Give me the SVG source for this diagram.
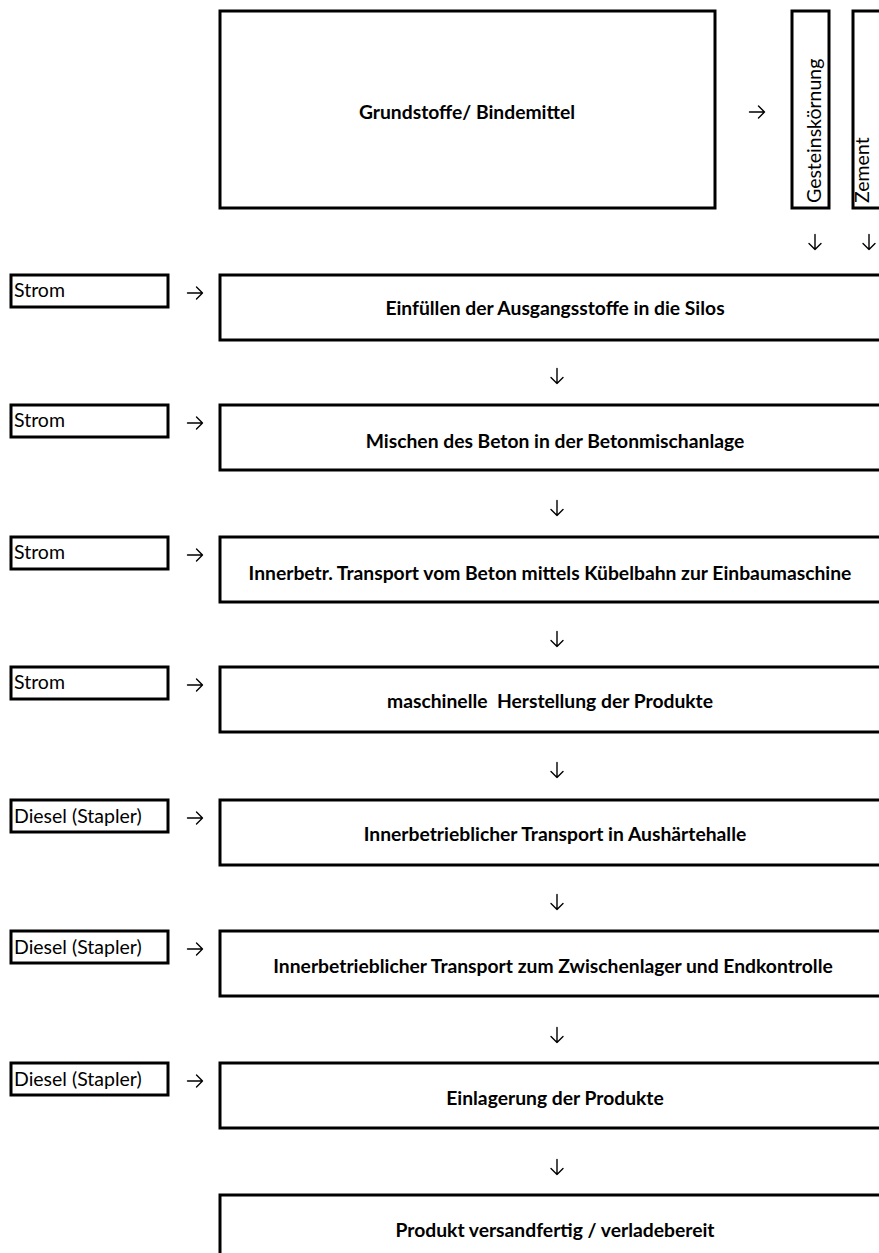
<svg xmlns="http://www.w3.org/2000/svg" width="879" height="1253" viewBox="0 0 879 1253">
<style>
.box{fill:#fff;stroke:#000;stroke-width:3}
.lbl{font-family:Lato,"Liberation Sans",sans-serif;font-weight:bold;font-size:19.3px;fill:#000;text-anchor:middle}
.in{font-family:Lato,"Liberation Sans",sans-serif;font-size:19.5px;fill:#000}
.arr{fill:none;stroke:#000;stroke-width:1.4;stroke-linecap:round;stroke-linejoin:round}
</style>
<defs>
<path id="ra" class="arr" d="M-7.5,0 H7.5 M1.5,-6 L7.5,0 L1.5,6"/>
<path id="da" class="arr" d="M0,-7.5 V7.5 M-6,1.5 L0,7.5 L6,1.5"/>
</defs>
<rect width="879" height="1253" fill="#fff"/>
<g id="grundstoffe"><rect class="box" x="220" y="11" width="495" height="197"/><text class="lbl" x="467" y="119">Grundstoffe/ Bindemittel</text></g>
<g id="gestein"><rect class="box" x="792" y="11" width="37" height="197"/><text class="in" transform="translate(821,203) rotate(-90)">Gesteinskörnung</text></g>
<g id="zement"><rect class="box" x="853" y="11" width="40" height="197"/><text class="in" transform="translate(869,203) rotate(-90)">Zement</text></g>
<g id="s1"><rect class="box" x="220" y="275" width="680" height="65"/><text class="lbl" x="555" y="315">Einfüllen der Ausgangsstoffe in die Silos</text></g>
<g id="s2"><rect class="box" x="220" y="405" width="680" height="65"/><text class="lbl" x="555" y="448">Mischen des Beton in der Betonmischanlage</text></g>
<g id="s3"><rect class="box" x="220" y="537" width="680" height="65"/><text class="lbl" x="550" y="580">Innerbetr. Transport vom Beton mittels Kübelbahn zur Einbaumaschine</text></g>
<g id="s4"><rect class="box" x="220" y="667" width="680" height="65"/><text class="lbl" x="550" y="708">maschinelle&#160; Herstellung der Produkte</text></g>
<g id="s5"><rect class="box" x="220" y="800" width="680" height="65"/><text class="lbl" x="555" y="841">Innerbetrieblicher Transport in Aushärtehalle</text></g>
<g id="s6"><rect class="box" x="220" y="931" width="680" height="65"/><text class="lbl" x="553" y="973">Innerbetrieblicher Transport zum Zwischenlager und Endkontrolle</text></g>
<g id="s7"><rect class="box" x="220" y="1063" width="680" height="65"/><text class="lbl" x="555" y="1105">Einlagerung der Produkte</text></g>
<g id="s8"><rect class="box" x="220" y="1195" width="680" height="80"/><text class="lbl" x="555" y="1237">Produkt versandfertig / verladebereit</text></g>
<g id="in1"><rect class="box" x="11" y="275" width="157" height="32"/><text class="in" x="14" y="297">Strom</text></g>
<g id="in2"><rect class="box" x="11" y="405" width="157" height="32"/><text class="in" x="14" y="427">Strom</text></g>
<g id="in3"><rect class="box" x="11" y="537" width="157" height="32"/><text class="in" x="14" y="559">Strom</text></g>
<g id="in4"><rect class="box" x="11" y="667" width="157" height="32"/><text class="in" x="14" y="689">Strom</text></g>
<g id="in5"><rect class="box" x="11" y="800" width="157" height="32"/><text class="in" x="14" y="823">Diesel (Stapler)</text></g>
<g id="in6"><rect class="box" x="11" y="931" width="157" height="32"/><text class="in" x="14" y="954">Diesel (Stapler)</text></g>
<g id="in7"><rect class="box" x="11" y="1063" width="157" height="32"/><text class="in" x="14" y="1086">Diesel (Stapler)</text></g>
<g id="connectors">
<use href="#ra" x="757" y="112"/>
<use href="#da" x="815" y="242"/>
<use href="#da" x="869" y="242"/>
<use href="#ra" x="195" y="293"/>
<use href="#ra" x="195" y="423"/>
<use href="#ra" x="195" y="555"/>
<use href="#ra" x="195" y="685"/>
<use href="#ra" x="195" y="818"/>
<use href="#ra" x="195" y="949"/>
<use href="#ra" x="195" y="1081"/>
<use href="#da" x="557" y="376"/>
<use href="#da" x="557" y="508"/>
<use href="#da" x="557" y="639"/>
<use href="#da" x="557" y="770"/>
<use href="#da" x="557" y="902"/>
<use href="#da" x="557" y="1035"/>
<use href="#da" x="557" y="1167"/>
</g>
</svg>
